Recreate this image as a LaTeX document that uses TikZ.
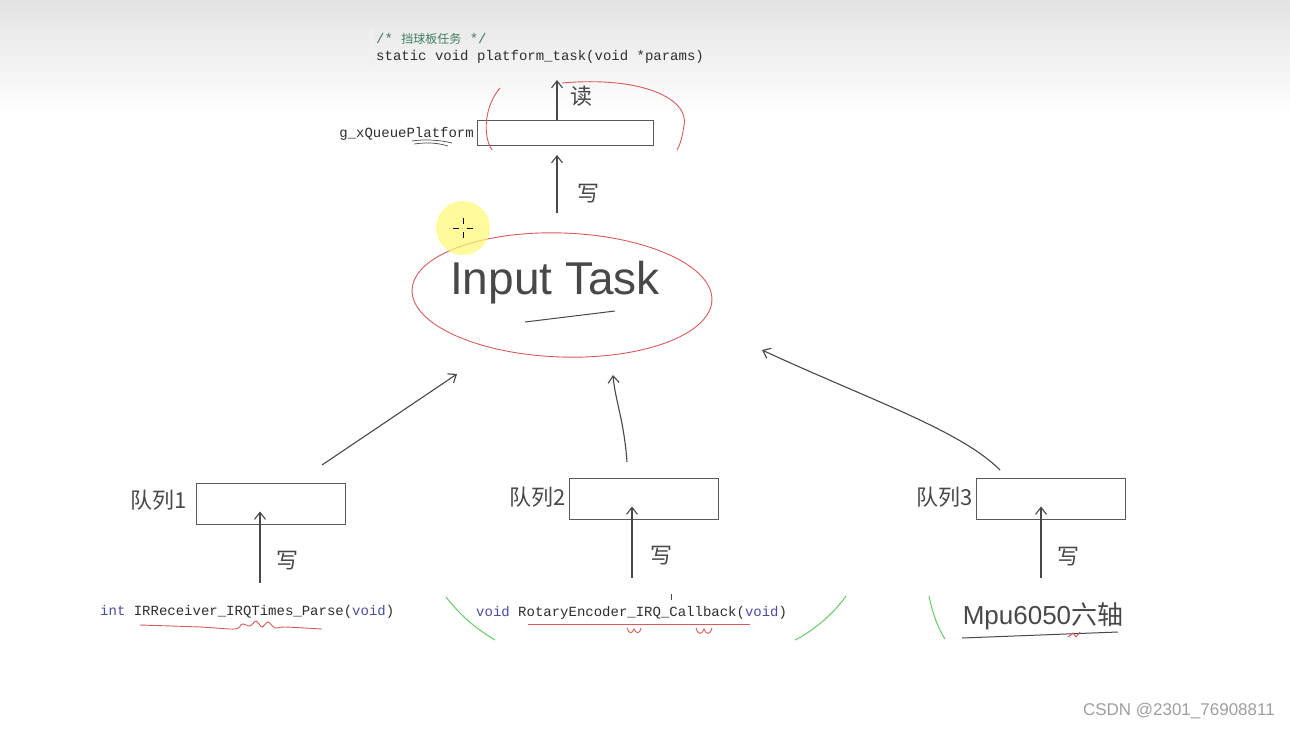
\documentclass[tikz,border=0pt]{standalone}
\usepackage{fontspec}
\setmainfont{Liberation Sans}
\newfontfamily\cjk{Noto Sans CJK SC}
\newfontfamily\codefont{Liberation Mono}
\usetikzlibrary{arrows.meta,shapes.geometric}
\definecolor{ink}{HTML}{484848}
\definecolor{redink}{HTML}{D85A5A}
\definecolor{greenink}{HTML}{66CC66}
\definecolor{cmt}{HTML}{3F7F5F}
\definecolor{kw}{HTML}{4B4BA0}
\definecolor{codec}{HTML}{2E2E2E}
\definecolor{boxc}{HTML}{5A5A5A}
\tikzset{
  qbox/.style={draw=boxc, line width=1pt, minimum width=149pt, minimum height=41pt, inner sep=0pt},
  hand/.style={draw=ink, line width=1.1pt, -{Straight Barb[length=7pt,width=11pt]}},
  hw/.style={font=\cjk\fontsize{22}{22}\selectfont, text=ink, inner sep=0pt},
  code/.style={font=\codefont\fontsize{14}{14}\selectfont, text=codec, inner sep=0pt, anchor=base west},
  redline/.style={draw=redink, line width=0.9pt},
  greenline/.style={draw=greenink, line width=1pt},
}
\begin{document}
\begin{tikzpicture}[x=1pt,y=-1pt]
\useasboundingbox (0,0) rectangle (1290,729);
\fill[white] (0,0) rectangle (1290,729);
\shade[top color=gray!22, bottom color=white] (0,0) rectangle (1290,115);
\fill[gray!12] (369,29) rectangle (374,66);

% code header
\node[code, text=cmt] (cmt) at (376,43) {/* {\cjk\fontsize{12}{12}\selectfont 挡球板任务} */};
\node[code] (sig) at (376,60) {static void platform\_task(void *params)};

% platform queue
\node[qbox, minimum width=176pt, minimum height=25pt] (pq) at (565,132.5) {};
\node[code, anchor=base east] (pql) at (474,137) {g\_xQueuePlatform};
\draw[ink, line width=0.7pt] (412,141) .. controls (425,139) and (440,140) .. (452,143)
  (414,144) .. controls (428,142) and (438,143) .. (448,146);

\coordinate (rdtop) at (557,80);
\draw[hand] (rdtop |- pq.north) -- (rdtop);
\node[hw] (rd) at (581,96) {读};
\draw[redline] (500,88) .. controls (485,105) and (482,135) .. (492,150);
\draw[redline] (562,83) .. controls (640,76) and (690,98) .. (684,126) .. controls (682,138) and (680,145) .. (677,150);

% Input Task
\node[draw=redink, line width=0.9pt, ellipse, minimum width=300pt, minimum height=124pt, rotate=-2] (it) at (562,295) {};
\node[text=ink, font=\fontsize{46}{46}\selectfont, inner sep=0pt] (itl) at (555,283) {Input Task};
\draw[ink, line width=1pt] (525,322) -- (615,311);

\coordinate (wtop) at (557,155);
\coordinate (wbot) at (557,213);
\draw[hand] (wbot) -- (wtop);
\node[hw] (w0) at (588,194) {写};

% cursor highlight
\fill[yellow!55, opacity=0.7] (463,228) circle (27);
\draw[black, line width=0.6pt] (453,228) -- (459,228) (467,228) -- (473,228) (463,218) -- (463,224) (463,232) -- (463,238);

% queues
\node[qbox] (q1) at (270.5,503.5) {};
\node[qbox] (q2) at (643.5,498.5) {};
\node[qbox] (q3) at (1051,498.5) {};
\node[hw, anchor=east] (q1l) at (187,500) {队列1};
\node[hw, anchor=east] (q2l) at (566,497) {队列2};
\node[hw, anchor=east] (q3l) at (973,497) {队列3};

% arrows to Input Task
\coordinate (a1s) at (322,465);
\coordinate (a1e) at (457,374);
\coordinate (a2s) at (627,462);
\coordinate (a2e) at (613,375);
\coordinate (a3s) at (1000,470);
\coordinate (a3e) at (762,350);
\draw[hand] (a1s) -- (a1e);
\draw[hand] (a2s) .. controls (624,420) and (615,400) .. (a2e);
\draw[hand] (a3s) .. controls (960,430) and (870,400) .. (a3e);

% write arrows
\coordinate (b1) at (260,583);
\coordinate (b2) at (632,578);
\coordinate (b3) at (1041,578);
\draw[hand] (b1) -- ([yshift=13pt]b1 |- q1.south);
\draw[hand] (b2) -- ([yshift=13pt]b2 |- q2.south);
\draw[hand] (b3) -- ([yshift=13pt]b3 |- q3.south);
\node[hw] (w1) at (287,561) {写};
\node[hw] (w2) at (661,556) {写};
\node[hw] (w3) at (1068,557) {写};

% sources
\node[code] (s1) at (100,615) {\textcolor{kw}{int} IRReceiver\_IRQTimes\_Parse(\textcolor{kw}{void})};
\node[code] (s2) at (476,616) {\textcolor{kw}{void} RotaryEncoder\_IRQ\_Callback(\textcolor{kw}{void})};
\node[text=ink, inner sep=0pt, font=\fontsize{26}{26}\selectfont] (s3) at (1043,616) {Mpu6050{\cjk 六轴}};
\draw[ink, line width=1pt] (962,638) -- (1118,632);

% red underlines
\draw[redline] plot[smooth] coordinates {(140,625) (200,627) (235,629) (242,624) (250,626) (256,621) (262,627) (268,622) (275,628) (285,627) (322,629)};
\draw[redline] (528,624) -- (750,624);
\draw[redline] (627,628) .. controls (629,634) and (632,634) .. (634,629) .. controls (636,634) and (640,634) .. (641,628);
\draw[redline] (696,628) .. controls (698,635) and (702,635) .. (704,629) .. controls (706,635) and (710,635) .. (712,628);
\draw[redline] (1068,637) -- (1073,633) -- (1076,637) -- (1080,632);
\draw[ink, line width=0.6pt] (671,594) -- (671,600);

% green arcs
\draw[greenline] (446,597) .. controls (460,615) and (475,628) .. (495,640);
\draw[greenline] (795,640) .. controls (815,630) and (835,612) .. (846,596);
\draw[greenline] (929,596) .. controls (933,615) and (938,628) .. (945,639);

% watermark
\node[anchor=east, text=gray!75, font=\fontsize{17}{17}\selectfont, inner sep=0pt] (wm) at (1275,711) {CSDN @2301\_76908811};
\end{tikzpicture}
\end{document}
